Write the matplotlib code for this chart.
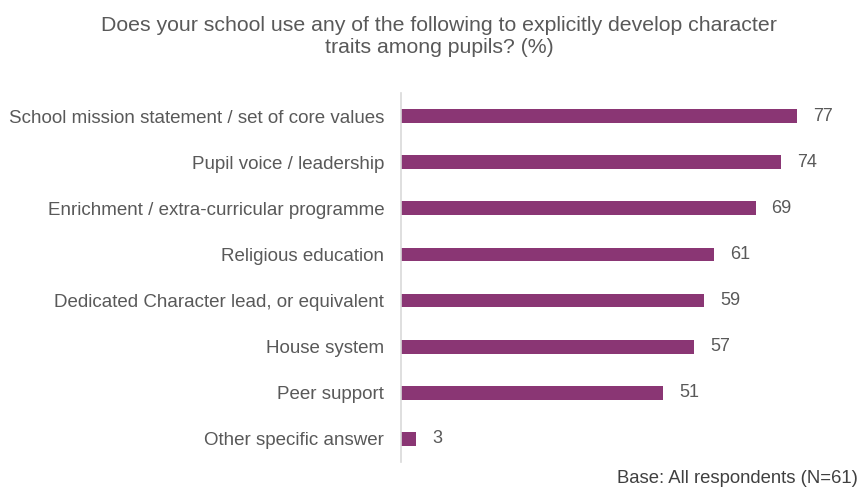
import matplotlib.pyplot as plt

plt.rcParams['font.family'] = ['Liberation Sans', 'DejaVu Sans']

categories = [
    'School mission statement / set of core values',
    'Pupil voice / leadership',
    'Enrichment / extra-curricular programme',
    'Religious education',
    'Dedicated Character lead, or equivalent',
    'House system',
    'Peer support',
    'Other specific answer',
]
values = [77, 74, 69, 61, 59, 57, 51, 3]

title = ('Does your school use any of the following to explicitly develop character\n'
         'traits among pupils? (%)')
base_note = 'Base: All respondents (N=61)'

bar_color = '#8a3674'
text_color = '#595959'

W, H = 861, 494
fig = plt.figure(figsize=(W / 100, H / 100), dpi=100)
# axes placed in pixel terms: y-axis line at x=401, bars span y=93..462
ax_left, ax_width = 401, 452
ax = fig.add_axes([ax_left / W, 32 / H, ax_width / W, 369 / H])

xmax = ax_width / 5.139
pos = list(range(len(categories)))
ax.barh(pos, values, height=0.3, color=bar_color)
ax.set_xlim(0, xmax)
ax.set_ylim(len(categories) - 0.5, -0.5)

for y, v in zip(pos, values):
    ax.annotate(str(v), xy=(v, y), xytext=(16, 0), textcoords='offset pixels',
                va='center', ha='left', fontsize=13, color=text_color)

ax.set_yticks(pos)
ax.set_yticklabels(categories, fontsize=13.5, color=text_color)
ax.tick_params(axis='y', length=0, pad=12)
ax.set_xticks([])

for side in ['top', 'right', 'bottom']:
    ax.spines[side].set_visible(False)
ax.spines['left'].set_color('#d9d9d9')
ax.spines['left'].set_linewidth(1.2)

fig.text(439 / W, 1 - 53 / H, title, ha='center', va='baseline',
         fontsize=15.3, color=text_color)
fig.text(858 / W, 1 - 483 / H, base_note, ha='right', va='baseline',
         fontsize=13.3, color='#404040')

fig.savefig('out.png', dpi=100)
